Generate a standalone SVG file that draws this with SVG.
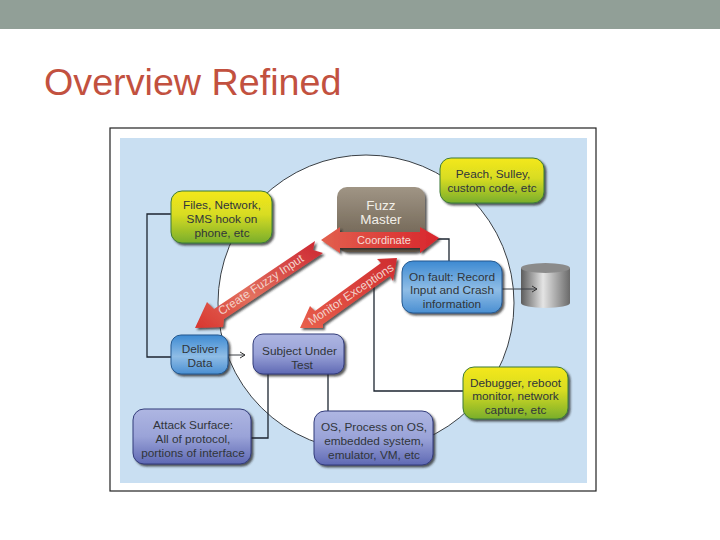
<svg xmlns="http://www.w3.org/2000/svg" width="720" height="540" viewBox="0 0 720 540">
<style>
text{font-family:"Liberation Sans",Arial,sans-serif;text-anchor:middle}
.n text{font-size:11.800px;fill:#30353a}
.line{fill:none;stroke:#1c2530;stroke-width:1.3}
.thin{fill:none;stroke:#3a3f44;stroke-width:1}
.w{fill:#f6dcd6;font-size:11px}
.r{fill:#f3d3cb;font-size:11.800px}
</style>
<defs>
<linearGradient id="g" x1="0" y1="0" x2="0" y2="1"><stop offset="0" stop-color="#f4e81c"/><stop offset="0.45" stop-color="#d8dc22"/><stop offset="1" stop-color="#79ae2c"/></linearGradient>
<linearGradient id="b" x1="0" y1="0" x2="0" y2="1"><stop offset="0" stop-color="#3d8ad2"/><stop offset="0.55" stop-color="#8fbde6"/><stop offset="1" stop-color="#4a8fd2"/></linearGradient>
<linearGradient id="p" x1="0" y1="0" x2="0" y2="1"><stop offset="0" stop-color="#aeb6e2"/><stop offset="0.5" stop-color="#9aa3d8"/><stop offset="1" stop-color="#5f69b4"/></linearGradient>
<linearGradient id="m" x1="0" y1="0" x2="0" y2="1"><stop offset="0" stop-color="#a09585"/><stop offset="1" stop-color="#655949"/></linearGradient>
<linearGradient id="c" x1="0" y1="0" x2="1" y2="0"><stop offset="0" stop-color="#5c5c5c"/><stop offset="0.45" stop-color="#e4e4e4"/><stop offset="1" stop-color="#6a6a6a"/></linearGradient>
<linearGradient id="r1" x1="0" y1="0" x2="1" y2="0"><stop offset="0" stop-color="#e2604e"/><stop offset="1" stop-color="#d8262c"/></linearGradient>
<linearGradient id="r2" x1="0" y1="1" x2="1" y2="0"><stop offset="0" stop-color="#d8342e"/><stop offset="0.4" stop-color="#e2705e"/><stop offset="1" stop-color="#cc2530"/></linearGradient>
<linearGradient id="r3" x1="0" y1="1" x2="1" y2="0"><stop offset="0" stop-color="#e8604c"/><stop offset="1" stop-color="#cf2c30"/></linearGradient>
<marker id="open" markerUnits="userSpaceOnUse" markerWidth="8" markerHeight="8" refX="6" refY="4" orient="auto"><path d="M1 1L6 4L1 7" fill="none" stroke="#333" stroke-width="1"/></marker>
<filter id="s" x="-10%" y="-10%" width="125%" height="125%"><feDropShadow dx="2" dy="2" stdDeviation="1.300" flood-color="#222" flood-opacity="0.75"/></filter>
</defs>
<rect width="720" height="540" fill="#fff"/>
<rect width="720" height="29" fill="#919f97"/>
<text x="44" y="95" style="font-size:37.700px;text-anchor:start;fill:#c2513f">Overview Refined</text>
<rect x="110" y="128" width="486" height="363" fill="#fff" stroke="#222" stroke-width="1.200"/>
<rect x="120" y="138" width="467" height="345" fill="#c9dff2"/>
<circle cx="366" cy="303" r="148" fill="#fff" stroke="#3a3f44" stroke-width="1"/>
<g id="cylinder">
<path d="M521 268V303A24.500 5 0 0 0 570 303V268Z" fill="url(#c)"/>
<ellipse cx="545.500" cy="268" rx="24.500" ry="5" fill="#8b8b8b"/>
</g>
<g id="connectors">
<path class="line" d="M172 214H147V357H172"/>
<path class="line" d="M437 239H449V262"/>
<path class="line" d="M374 287V391H464"/>
<path class="line" d="M268 374V438H250"/>
<path class="line" d="M328 374V412"/>
<path class="thin" d="M228 355H245" marker-end="url(#open)"/>
<path class="thin" d="M502 289H537" marker-end="url(#open)"/>
</g>
<g id="fuzz-master" class="n">
<rect x="337" y="187" width="88" height="65" rx="10" fill="url(#m)" filter="url(#s)"/>
<text x="381" y="210" style="font-size:13.500px;fill:#f2efe8">Fuzz</text>
<text x="381" y="224" style="font-size:13.500px;fill:#f2efe8">Master</text>
</g>
<g id="arrow-coordinate">
<path d="M321 240L340 227V232H420V227L439 238L420 253V248H340V253Z" fill="url(#r1)" filter="url(#s)"/>
<text class="w" x="384" y="244">Coordinate</text>
</g>
<g id="arrow-create">
<path d="M195 328L207 302L214 309L315 241L313 250L323 253L224 319L223 327Z" fill="url(#r2)" filter="url(#s)"/>
<text class="r" transform="translate(263 288) rotate(-33.500)">Create Fuzzy Input</text>
</g>
<g id="arrow-monitor">
<path d="M300 328L310 306L315 311L381 263L377 259L397 258L393 281L390 276L323 324L323 328Z" fill="url(#r3)" filter="url(#s)"/>
<text class="r" transform="translate(353 297.500) rotate(-34)">Monitor Exceptions</text>
</g>
<g id="files" class="n">
<rect x="171" y="191" width="101" height="52" rx="11" fill="url(#g)" stroke="#3d7a3a" filter="url(#s)"/>
<text x="222" y="209">Files, Network,</text><text x="222" y="223">SMS hook on</text><text x="222" y="237">phone, etc</text>
</g>
<g id="peach" class="n">
<rect x="440" y="158" width="104" height="45" rx="11" fill="url(#g)" stroke="#3d7a3a" filter="url(#s)"/>
<text x="493" y="178">Peach, Sulley,</text><text x="492" y="192">custom code, etc</text>
</g>
<g id="on-fault" class="n">
<rect x="402" y="261" width="100" height="52" rx="11" fill="url(#b)" stroke="#24598f" filter="url(#s)"/>
<text x="452" y="281">On fault: Record</text><text x="452" y="294">Input and Crash</text><text x="452" y="308">information</text>
</g>
<g id="deliver" class="n">
<rect x="171" y="335" width="57" height="39" rx="10" fill="url(#b)" stroke="#24598f" filter="url(#s)"/>
<text x="200" y="353">Deliver</text><text x="200" y="367">Data</text>
</g>
<g id="subject" class="n">
<rect x="253" y="334" width="91" height="40" rx="10" fill="url(#p)" stroke="#333c7a" filter="url(#s)"/>
<text x="299.500" y="355">Subject Under</text><text x="302" y="369">Test</text>
</g>
<g id="attack" class="n">
<rect x="133" y="409" width="118" height="55" rx="11" fill="url(#p)" stroke="#333c7a" filter="url(#s)"/>
<text x="193" y="429">Attack Surface:</text><text x="193" y="443">All of protocol,</text><text x="193" y="457">portions of interface</text>
</g>
<g id="os" class="n">
<rect x="314" y="411" width="119" height="54" rx="11" fill="url(#p)" stroke="#333c7a" filter="url(#s)"/>
<text x="374" y="431">OS, Process on OS,</text><text x="374" y="445">embedded system,</text><text x="374" y="459">emulator, VM, etc</text>
</g>
<g id="debugger" class="n">
<rect x="463" y="367" width="105" height="52" rx="11" fill="url(#g)" stroke="#3d7a3a" filter="url(#s)"/>
<text x="515.500" y="387">Debugger, reboot</text><text x="515.500" y="400">monitor, network</text><text x="515.500" y="414">capture, etc</text>
</g>
</svg>
